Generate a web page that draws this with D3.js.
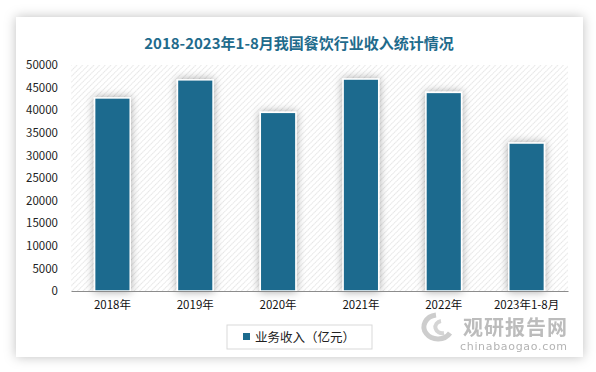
<!DOCTYPE html>
<html>
<head>
  <meta charset="utf-8">
  <title>2018-2023年1-8月我国餐饮行业收入统计情况</title>
  <script src="https://d3js.org/d3.v7.min.js"></script>
  <style>
    body { margin: 0; background: #ffffff; }
    svg { display: block; font-family: "Noto Sans CJK SC", "Noto Sans", sans-serif; }
  </style>
</head>
<body>
<svg id="chart"></svg>
<script>
// data
const years = ["2018年", "2019年", "2020年", "2021年", "2022年", "2023年1-8月"];
const revenue = [42716, 46721, 39527, 46895, 43941, 32740];
const yTicks = [0, 5000, 10000, 15000, 20000, 25000, 30000, 35000, 40000, 45000, 50000];
const seriesName = "业务收入（亿元）";
const titleText = "2018-2023年1-8月我国餐饮行业收入统计情况";

const W = 596, H = 372;
const plot = {left: 71, right: 568, top: 65, bottom: 291};
const barColor = "#1c6b8e";

const svg = d3.select("#chart").attr("width", W).attr("height", H);
const defs = svg.append("defs");

// card shadow
const cs = defs.append("filter").attr("id", "cardShadow")
  .attr("x", "-10%").attr("y", "-10%").attr("width", "120%").attr("height", "120%");
cs.append("feDropShadow").attr("dx", 0).attr("dy", 0).attr("stdDeviation", 6)
  .attr("flood-color", "#000").attr("flood-opacity", 0.25);

// bar shadow
const bs = defs.append("filter").attr("id", "barShadow")
  .attr("x", "-50%").attr("y", "-20%").attr("width", "200%").attr("height", "140%");
bs.append("feDropShadow").attr("dx", 0).attr("dy", 0).attr("stdDeviation", 4)
  .attr("flood-color", "#000").attr("flood-opacity", 0.35);

// hatched plot background
const pat = defs.append("pattern").attr("id", "hatch")
  .attr("patternUnits", "userSpaceOnUse").attr("width", 4).attr("height", 4)
  .attr("patternTransform", "rotate(45)");
pat.append("line").attr("x1", 0).attr("y1", 0).attr("x2", 0).attr("y2", 4)
  .attr("stroke", "#d4d4d4").attr("stroke-width", 1.2).attr("stroke-dasharray", "1.4 0.6");

// card
svg.append("rect").attr("x", 16).attr("y", 17).attr("width", 567).attr("height", 340)
  .attr("fill", "#fff").attr("filter", "url(#cardShadow)");

// title
svg.append("text").attr("x", 299).attr("y", 49).attr("text-anchor", "middle")
  .style("font-size", "15px").style("font-weight", "bold").attr("fill", "#1f6b8c")
  .text(titleText);

const x = d3.scaleBand().domain(years).range([plot.left, plot.right]).paddingInner(0.57).paddingOuter(0.285);
const y = d3.scaleLinear().domain([0, 50000]).range([plot.bottom, plot.top]);

svg.append("rect").attr("x", plot.left).attr("y", plot.top)
  .attr("width", plot.right - plot.left).attr("height", plot.bottom - plot.top)
  .attr("fill", "url(#hatch)");

// y axis
const yAxis = svg.append("g").attr("transform", `translate(${plot.left},0)`)
  .call(d3.axisLeft(y).tickValues(yTicks).tickFormat(d3.format("d")).tickSize(0).tickPadding(13));
yAxis.select(".domain").remove();
yAxis.selectAll("text").style("font-size", "11.5px").attr("fill", "#222")
  .style("font-family", "\"Noto Sans CJK SC\", sans-serif");

// bars
svg.append("g").selectAll("rect").data(years).join("rect")
  .attr("x", d => x(d))
  .attr("y", (d, i) => y(revenue[i]))
  .attr("width", x.bandwidth())
  .attr("height", (d, i) => y(0) - y(revenue[i]))
  .attr("fill", barColor)
  .attr("stroke", "#fff").attr("stroke-width", 1.5)
  .attr("filter", "url(#barShadow)");

// x axis
const xAxis = svg.append("g").attr("transform", `translate(0,${plot.bottom})`)
  .call(d3.axisBottom(x).tickSize(0).tickPadding(10));
xAxis.select(".domain").attr("stroke", "#8c8c8c").attr("stroke-width", 1.2);
xAxis.selectAll("text").style("font-size", "11.5px").attr("fill", "#111")
  .style("font-family", "\"Noto Sans CJK SC\", sans-serif");

// legend
const lg = svg.append("g");
lg.append("rect").attr("x", 227).attr("y", 325).attr("width", 145).attr("height", 24)
  .attr("fill", "#fff").attr("stroke", "#d9d9d9");
lg.append("rect").attr("x", 243).attr("y", 333).attr("width", 7).attr("height", 7).attr("fill", barColor);
lg.append("text").attr("x", 255).attr("y", 342).style("font-size", "12.5px").attr("fill", "#222")
  .text(seriesName);

// watermark
const wm = svg.append("g").attr("opacity", 0.75);
wm.append("path").attr("d", "M436,315 A14,12 0 1,0 450,333").attr("fill", "none")
  .attr("stroke", "#bdbdbd").attr("stroke-width", 5);
wm.append("path").attr("d", "M441,321 A7,6 0 1,0 444,333").attr("fill", "none")
  .attr("stroke", "#c8c8c8").attr("stroke-width", 4);
wm.append("text").attr("x", 463).attr("y", 335).style("font-size", "20px").style("font-weight", "bold")
  .attr("fill", "#a6a6a6").attr("textLength", 104).text("观研报告网");
wm.append("text").attr("x", 460).attr("y", 350).style("font-size", "11px")
  .style("font-family", "\"DejaVu Sans\", sans-serif").attr("fill", "#9a9a9a").attr("textLength", 107)
  .text("chinabaogao.com");
</script>
</body>
</html>
